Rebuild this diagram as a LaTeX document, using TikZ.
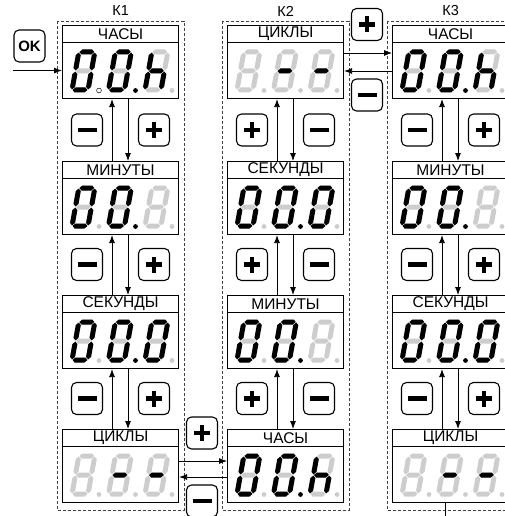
\documentclass[tikz,border=0pt]{standalone}
\usepackage{fontspec}
\setmainfont{Liberation Sans}
\usetikzlibrary{arrows.meta}

\definecolor{segoff}{RGB}{205,205,205}

% one segment of a display digit
\newcommand{\hseg}[4]{\fill[#4] (#1,#3) -- (#1+2.5,#3-2.5) -- (#2-2.5,#3-2.5) -- (#2,#3) -- (#2-2.5,#3+2.5) -- (#1+2.5,#3+2.5) -- cycle;}
\newcommand{\vseg}[4]{\fill[#4] (#3,#1) -- (#3+2.5,#1-2.5) -- (#3+2.5,#2+2.5) -- (#3,#2) -- (#3-2.5,#2+2.5) -- (#3-2.5,#1-2.5) -- cycle;}
\newcommand{\sega}[1]{\hseg{0.6}{15.4}{-38}{#1}}
\newcommand{\segb}[1]{\vseg{-19.6}{-37.4}{16}{#1}}
\newcommand{\segc}[1]{\vseg{-0.6}{-18.4}{16}{#1}}
\newcommand{\segd}[1]{\hseg{0.6}{15.4}{0}{#1}}
\newcommand{\sege}[1]{\vseg{-0.6}{-18.4}{0}{#1}}
\newcommand{\segf}[1]{\vseg{-19.6}{-37.4}{0}{#1}}
\newcommand{\segg}[1]{\hseg{0.6}{15.4}{-19}{#1}}
\newcommand{\segnone}[1]{}

% digit: x, baseline, lit segments, point
\newcommand{\segdigit}[4]{%
  \begin{scope}[shift={(#1,#2)}, xslant=0.18]
    \foreach \s in {a,b,c,d,e,f,g} {\csname seg\s\endcsname{segoff}}
    \foreach \s in {#3} {\csname seg\s\endcsname{black}}
  \end{scope}
  \path[#4] (#1+27,#2+0.5) circle (2.4);}

% display contents: left edge, baseline
\newcommand{\disphrs}[3][fill=segoff]{%
  \segdigit{#2+10}{#3}{a,b,c,d,e,f}{#1}
  \segdigit{#2+46.5}{#3}{a,b,c,d,e,f}{fill=black}
  \segdigit{#2+83}{#3}{c,e,f,g}{fill=segoff}}
\newcommand{\disphrso}[2]{\disphrs[draw,fill=white,line width=0.5pt]{#1}{#2}}
\newcommand{\dispmin}[2]{%
  \segdigit{#1+10}{#2}{a,b,c,d,e,f}{fill=segoff}
  \segdigit{#1+46.5}{#2}{a,b,c,d,e,f}{fill=black}
  \segdigit{#1+83}{#2}{none}{fill=segoff}}
\newcommand{\dispsec}[2]{%
  \segdigit{#1+10}{#2}{a,b,c,d,e,f}{fill=segoff}
  \segdigit{#1+46.5}{#2}{a,b,c,d,e,f}{fill=black}
  \segdigit{#1+83}{#2}{a,b,c,d,e,f}{fill=segoff}}
\newcommand{\dispcyc}[2]{%
  \segdigit{#1+10}{#2}{none}{fill=segoff}
  \segdigit{#1+46.5}{#2}{g}{fill=segoff}
  \segdigit{#1+83}{#2}{g}{fill=segoff}}

% keys
\newcommand{\plusbtn}[3]{\node[btn] (#1) at (#2,#3) {};
  \draw[sym] ([xshift=-8pt]#1.center) -- ([xshift=8pt]#1.center) ([yshift=-8pt]#1.center) -- ([yshift=8pt]#1.center);}
\newcommand{\minusbtn}[3]{\node[btn] (#1) at (#2,#3) {};
  \draw[sym] ([xshift=-9.5pt]#1.center) -- ([xshift=9.5pt]#1.center);}

\begin{document}
\begin{tikzpicture}[x=1pt, y=-1pt,
  hdr/.style={draw, line width=1.1pt, minimum width=116pt, minimum height=17pt, inner sep=0pt, anchor=north west, font=\fontsize{15.5}{15.5}\selectfont},
  disp/.style={draw, line width=1.1pt, minimum width=116pt, minimum height=56pt, anchor=north west},
  btn/.style={draw, fill=white, rounded corners=5pt, line width=1.1pt, minimum width=31pt, minimum height=32pt, inner sep=0pt},
  sym/.style={line width=4.4pt},
  link/.style={line width=0.8pt, -{Latex[length=8pt,width=6pt]}},
  frame/.style={densely dashed, line width=0.7pt, black!75}]

  \useasboundingbox (0,0) rectangle (504,516);

  % Panels
  \foreach \n/\L/\T/\lab/\kind in {11/62/25/ЧАСЫ/hrso, 12/62/161/МИНУТЫ/min, 13/62/295/СЕКУНДЫ/sec, 14/62/429/ЦИКЛЫ/cyc,
      21/227/25/ЦИКЛЫ/cyc, 22/227/161/СЕКУНДЫ/sec, 23/227/295/МИНУТЫ/min, 24/227/429/ЧАСЫ/hrs,
      31/392/25/ЧАСЫ/hrs, 32/392/161/МИНУТЫ/min, 33/392/295/СЕКУНДЫ/sec, 34/392/429/ЦИКЛЫ/cyc} {
    \node[hdr] (h\n) at (\L,\T) {\lab};
    \node[disp] (d\n) at (\L,\T+17) {};
    \csname disp\kind\endcsname{\L}{\T+65}
  }

  % Columns
  \foreach \c in {1,2,3} {
    \draw[frame] ([xshift=-5pt,yshift=4pt]h\c1.north west) rectangle ([xshift=5pt,yshift=-7pt]d\c4.south east);
    \node[font=\fontsize{14.5}{14.5}\selectfont] (k\c) at ([yshift=14pt]h\c1.north) {К\c};
  }

  % Up/down links in a column
  \foreach \c in {1,2,3}
    \foreach \r/\s in {1/2,2/3,3/4} {
      \draw[link] ([xshift=50pt]h\c\s.north west) -- ([xshift=50pt]d\c\r.south west);
      \draw[link] ([xshift=66pt]d\c\r.south west) -- ([xshift=66pt]h\c\s.north west);
    }

  % Keys in a column
  \foreach \c/\L/\lft/\rgt in {1/62/minus/plus, 2/227/plus/minus, 3/392/minus/plus}
    \foreach \r/\y in {1/130, 2/264.5, 3/398.5} {
      \csname\lft btn\endcsname{bl\c\r}{\L+25}{\y}
      \csname\rgt btn\endcsname{br\c\r}{\L+92}{\y}
    }

  % Links between columns
  \draw[link] ([yshift=-15pt]d14.north east) -- ([yshift=-15pt]d24.north west);
  \draw[link] ([yshift=-31pt]d24.north west) -- ([yshift=-31pt]d14.north east);
  \draw[link] ([yshift=-11pt]d21.north east) -- ([yshift=-11pt]d31.north west);
  \draw[link] ([yshift=-29pt]d31.north west) -- ([yshift=-29pt]d21.north east);
  \plusbtn{bx1}{202}{433}
  \minusbtn{bx2}{202}{501}
  \plusbtn{bx3}{367}{24.5}
  \minusbtn{bx4}{367}{95}

  % OK key
  \node[btn, font=\fontsize{15}{15}\selectfont\bfseries] (ok) at (29.5,46) {OK};
  \draw[link] (ok.west |- d11.west) -- (d11.west);

  % way out
  \draw[line width=0.8pt] ([xshift=53pt]d34.south west) -- ++(0,20);
\end{tikzpicture}
\end{document}
